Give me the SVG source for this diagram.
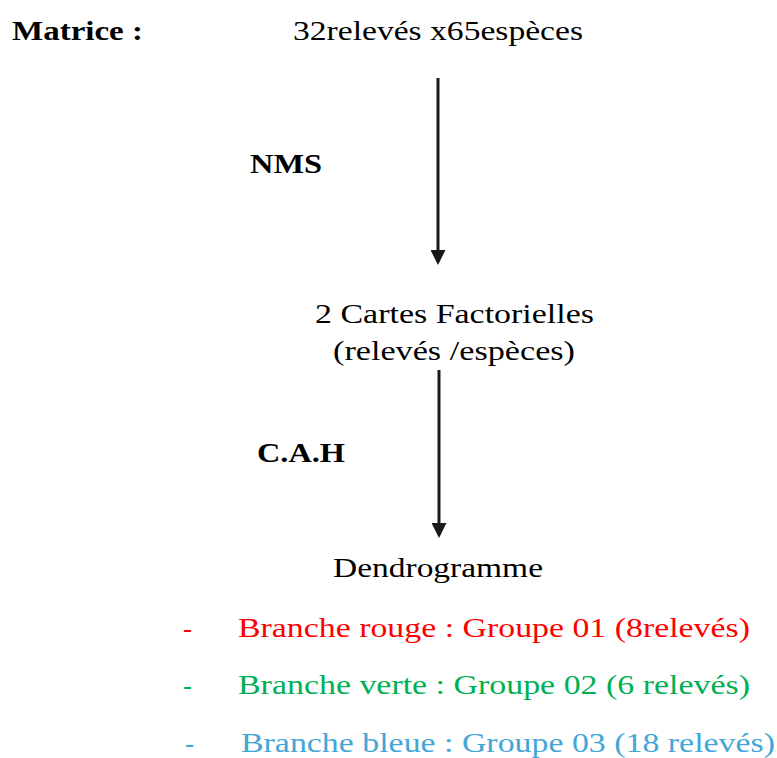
<svg xmlns="http://www.w3.org/2000/svg" width="777" height="758" viewBox="0 0 777 758">
<style>
text{font-family:"Liberation Serif","Times New Roman",serif;font-size:27px;fill:#000}
.b{font-weight:bold}
.red{fill:#FF0000}
.green{fill:#00B050}
.blue{fill:#43A6D6}
.conn{stroke:#1a1a1a;stroke-width:3;fill:none}
</style>
<defs>
<marker id="ah" markerWidth="5" markerHeight="5" refX="4" refY="2.5" orient="auto" markerUnits="strokeWidth">
<path d="M0,0 L5,2.5 L0,5 Z" fill="#1a1a1a"/>
</marker>
</defs>
<rect width="777" height="758" fill="#fff"/>
<g id="matrice">
<text class="b" x="12" y="40" textLength="131" lengthAdjust="spacingAndGlyphs">Matrice :</text>
<text x="293" y="40" textLength="290" lengthAdjust="spacingAndGlyphs">32relevés x65espèces</text>
</g>
<g id="nms"><text class="b" x="250" y="173" textLength="72" lengthAdjust="spacingAndGlyphs">NMS</text></g>
<g id="cartes">
<text x="315" y="323" textLength="279" lengthAdjust="spacingAndGlyphs">2 Cartes Factorielles</text>
<text x="333" y="360" textLength="242" lengthAdjust="spacingAndGlyphs">(relevés /espèces)</text>
</g>
<g id="cah"><text class="b" x="257" y="462" textLength="88" lengthAdjust="spacingAndGlyphs">C.A.H</text></g>
<g id="dendrogramme">
<text x="333" y="577" textLength="210" lengthAdjust="spacingAndGlyphs">Dendrogramme</text>
<text class="red" x="183" y="637">-</text>
<text class="red" x="238" y="637" textLength="512" lengthAdjust="spacingAndGlyphs">Branche rouge : Groupe 01 (8relevés)</text>
<text class="green" x="183" y="694">-</text>
<text class="green" x="238" y="694" textLength="512" lengthAdjust="spacingAndGlyphs">Branche verte : Groupe 02 (6 relevés)</text>
<text class="blue" x="185" y="752">-</text>
<text class="blue" x="241" y="752" textLength="534" lengthAdjust="spacingAndGlyphs">Branche bleue : Groupe 03 (18 relevés)</text>
</g>
<g id="connectors">
<line class="conn" x1="438" y1="78" x2="438" y2="262" marker-end="url(#ah)"/>
<line class="conn" x1="439" y1="370" x2="439" y2="535" marker-end="url(#ah)"/>
</g>
</svg>
